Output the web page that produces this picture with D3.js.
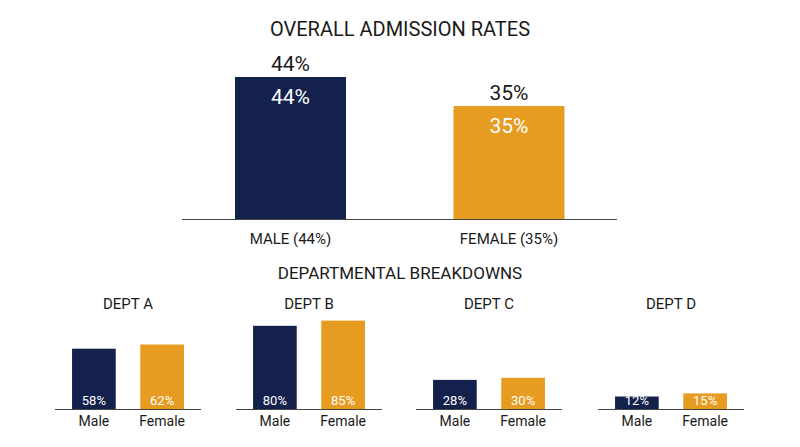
<!DOCTYPE html>
<html><head><meta charset="utf-8">
<script src="https://cdn.jsdelivr.net/npm/d3@7"></script>
<style>body{margin:0;background:#fff;font-family:Roboto,"Noto Sans",sans-serif}</style>
</head><body><svg id="c" width="800" height="447"></svg>
<script>
const overallCats = ["MALE (44%)", "FEMALE (35%)"];
const overallVals = [44, 35];
const depts = ["DEPT A", "DEPT B", "DEPT C", "DEPT D"];
const deptCats = ["Male", "Female"];
const maleVals = [58, 80, 28, 12];
const femaleVals = [62, 85, 30, 15];
const colors = ["#14214d", "#e69b21"];

const svg = d3.select("#c");
const txt = "#1a1a1a";
svg.append("text").attr("x",400).attr("y",36).attr("text-anchor","middle")
  .attr("font-size",20).attr("fill",txt).text("OVERALL ADMISSION RATES");

const x = d3.scaleBand().domain(overallCats).range([182,617]).paddingInner(0.98).paddingOuter(0.25);
const xb = d3.scaleBand().domain(overallCats).range([182,617]).padding(0);
const y = d3.scaleLinear().domain([0,44]).range([219,77]);
const g = svg.append("g");
overallCats.forEach((c,i)=>{
  const cx = xb(c)+xb.bandwidth()/2 + (i===0? 73-xb.bandwidth()/2+ (290-182-108) : 0);
});
const centers = [290.5, 509];
const bw = 111;
overallCats.forEach((c,i)=>{
  const v = overallVals[i], cx = centers[i];
  g.append("rect").attr("x",cx-bw/2).attr("width",bw).attr("y",y(v)).attr("height",219-y(v)).attr("fill",colors[i]);
  g.append("text").attr("x",cx).attr("y",y(v)-6).attr("text-anchor","middle").attr("font-size",21).attr("fill",txt).text(v+"%");
  g.append("text").attr("x",cx).attr("y",y(v)+27).attr("text-anchor","middle").attr("font-size",21).attr("fill","#fff").text(v+"%");
  g.append("text").attr("x",cx).attr("y",244).attr("text-anchor","middle").attr("font-size",15).attr("fill",txt).text(c);
});
g.append("line").attr("x1",182).attr("x2",617).attr("y1",219.5).attr("y2",219.5).attr("stroke","#444");

svg.append("text").attr("x",400).attr("y",279).attr("text-anchor","middle")
  .attr("font-size",17).attr("fill",txt).text("DEPARTMENTAL BREAKDOWNS");

const panelX = [55, 236, 416, 598];
const pw = 146;
const yd = d3.scaleLinear().domain([0,100]).range([409,305]);
depts.forEach((d,i)=>{
  const p = svg.append("g").attr("transform",`translate(${panelX[i]},0)`);
  const xs = d3.scaleBand().domain(deptCats).range([0,pw]).paddingInner(0.36).paddingOuter(0.25);
  p.append("text").attr("x",pw/2).attr("y",309).attr("text-anchor","middle").attr("font-size",15).attr("fill",txt).text(d);
  [maleVals[i], femaleVals[i]].forEach((v,j)=>{
    const c = deptCats[j], cx = xs(c)+xs.bandwidth()/2;
    p.append("rect").attr("x",xs(c)).attr("width",xs.bandwidth()).attr("y",yd(v)).attr("height",409-yd(v)).attr("fill",colors[j]);
    p.append("text").attr("x",cx).attr("y",405).attr("text-anchor","middle").attr("font-size",13).attr("fill","#fff").text(v+"%");
    p.append("text").attr("x",cx).attr("y",426).attr("text-anchor","middle").attr("font-size",14).attr("fill",txt).text(c);
  });
  p.append("line").attr("x1",0).attr("x2",pw).attr("y1",409.5).attr("y2",409.5).attr("stroke","#444");
});
</script></body></html>
